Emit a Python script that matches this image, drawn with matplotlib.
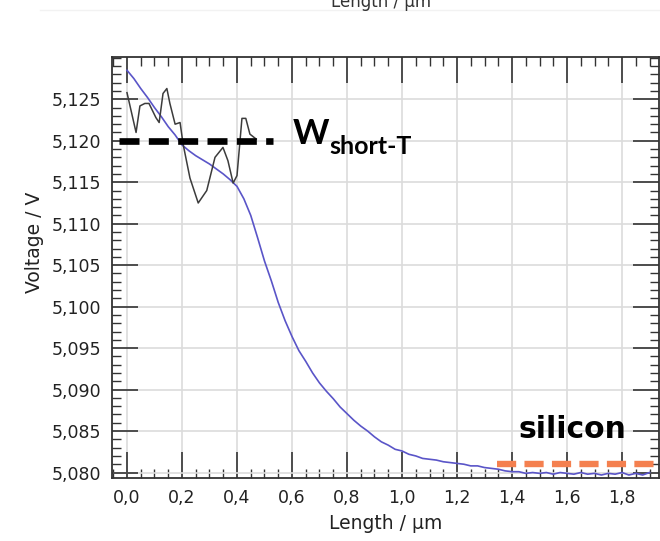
import matplotlib
matplotlib.use("Agg")
import matplotlib.pyplot as plt
from matplotlib.ticker import MultipleLocator, FuncFormatter
from matplotlib.lines import Line2D

# ---- data ----
blue_x = [0.00, 0.025, 0.05, 0.075, 0.10, 0.125, 0.15, 0.175, 0.20, 0.225, 0.25, 0.275,
          0.30, 0.325, 0.35, 0.375, 0.40, 0.425, 0.45, 0.475, 0.50, 0.525, 0.55, 0.575,
          0.60, 0.625, 0.65, 0.675, 0.70, 0.725, 0.75, 0.775, 0.80, 0.825, 0.85, 0.875,
          0.90, 0.925, 0.95, 0.975, 1.00, 1.025, 1.05, 1.075, 1.10, 1.125, 1.15, 1.175,
          1.20, 1.225, 1.25, 1.275, 1.30, 1.325, 1.35, 1.375, 1.40, 1.425, 1.45, 1.475,
          1.50, 1.525, 1.55, 1.575, 1.60, 1.625, 1.65, 1.675, 1.70, 1.725, 1.75, 1.775,
          1.80, 1.825, 1.85, 1.875, 1.90]
blue_v = [5.1285, 5.1275, 5.1263, 5.1252, 5.1240, 5.1229, 5.1217, 5.1207, 5.1195, 5.1188,
          5.1182, 5.1177, 5.1172, 5.1166, 5.1160, 5.1153, 5.1145, 5.1130, 5.1110, 5.1083,
          5.1055, 5.1031, 5.1005, 5.0983, 5.0964, 5.0947, 5.0934, 5.0920, 5.0908, 5.0898,
          5.0889, 5.0879, 5.0871, 5.0863, 5.0856, 5.0850, 5.0843, 5.0837, 5.0833, 5.0828,
          5.0826, 5.0822, 5.0820, 5.0817, 5.0816, 5.0815, 5.0813, 5.0812, 5.0811, 5.0810,
          5.0808, 5.0808, 5.0806, 5.0805, 5.0804, 5.0802, 5.0801, 5.0801, 5.0799, 5.0800,
          5.0799, 5.0800, 5.0798, 5.0800, 5.0799, 5.0798, 5.0800, 5.0798, 5.0799, 5.0797,
          5.0799, 5.0798, 5.0800, 5.0797, 5.0799, 5.0797, 5.0800]

black_x = [0.000, 0.033, 0.047, 0.065, 0.080, 0.105, 0.117, 0.131, 0.145, 0.156, 0.175,
           0.193, 0.204, 0.229, 0.259, 0.290, 0.320, 0.349, 0.367, 0.386, 0.400, 0.418,
           0.432, 0.447, 0.470]
black_v = [5.1258, 5.1210, 5.1242, 5.1245, 5.1245, 5.1228, 5.1222, 5.1257, 5.1263, 5.1245,
           5.1220, 5.1222, 5.1196, 5.1155, 5.1125, 5.1140, 5.1180, 5.1192, 5.1176, 5.1149,
           5.1158, 5.1227, 5.1227, 5.1208, 5.1202]

wshort_x = [-0.03, 0.53]
wshort_v = [5.1200, 5.1200]

silicon_x = [1.345, 1.94]
silicon_v = [5.0810, 5.0810]

x_ticks = [0.0, 0.2, 0.4, 0.6, 0.8, 1.0, 1.2, 1.4, 1.6, 1.8]
y_ticks = [5.080, 5.085, 5.090, 5.095, 5.100, 5.105, 5.110, 5.115, 5.120, 5.125]

# ---- figure ----
fig = plt.figure(figsize=(6.6, 5.41), dpi=100)
ax = fig.add_axes([112/660, 1 - 478/541, (659 - 112)/660, (478 - 57)/541])

ax.plot(blue_x, blue_v, color="#5a55c8", lw=1.2, zorder=3)
ax.plot(black_x, black_v, color="#3c3c3c", lw=1.1, zorder=3)
ax.plot(wshort_x, wshort_v, color="black", lw=4.8, dashes=(3.0, 1.4), solid_capstyle="butt", zorder=4)
ax.plot(silicon_x, silicon_v, color="#f4804f", lw=4.6, dashes=(3.0, 1.3), zorder=4)

ax.set_xlim(-0.0545, 1.9345)
ax.set_ylim(5.07934, 5.1301)

ax.set_xticks(x_ticks)
ax.set_yticks(y_ticks)
ax.xaxis.set_minor_locator(MultipleLocator(0.05))
ax.yaxis.set_minor_locator(MultipleLocator(0.001))
ax.xaxis.set_major_formatter(FuncFormatter(lambda v, p: f"{v:.1f}".replace(".", ",")))
ax.yaxis.set_major_formatter(FuncFormatter(lambda v, p: f"{v:.3f}".replace(".", ",")))

ax.tick_params(which="both", direction="in", top=True, right=True, colors="#333333",
               labelcolor="#222222", labelsize=12.5)
ax.tick_params(which="major", length=19, width=1.2, pad=8)
ax.tick_params(which="minor", length=6.5, width=1.0)

ax.grid(True, which="major", color="#dcdcdc", lw=1.2, zorder=0)
for s in ax.spines.values():
    s.set_color("#333333")
    s.set_linewidth(1.3)

ax.set_xlabel("Length / µm", fontsize=13.5, color="#222222", labelpad=5)
ax.set_ylabel("Voltage / V", fontsize=13.5, color="#222222")
ax.yaxis.set_label_coords(-0.125, 0.56)

# annotations
ax.text(0.604, 5.1196, "W", fontsize=25, fontweight="bold", family="Lato",
        ha="left", va="baseline", zorder=5)
ax.text(0.735, 5.1184, "short-T", fontsize=18, fontweight="bold", family="Lato",
        ha="left", va="baseline", zorder=5)
ax.text(1.422, 5.0842, "silicon", fontsize=21.5, fontweight="bold", family="DejaVu Sans",
        ha="left", va="baseline", zorder=5)

# cut-off label of the panel above
fig.text(381/660, 1 - 2/541, "Length / µm", fontsize=12, color="#333333", ha="center", va="center")
fig.add_artist(Line2D([0.06, 1.0], [1 - 10/541, 1 - 10/541], color="#f2f2f2", lw=1))

fig.savefig("out.png", dpi=100)
